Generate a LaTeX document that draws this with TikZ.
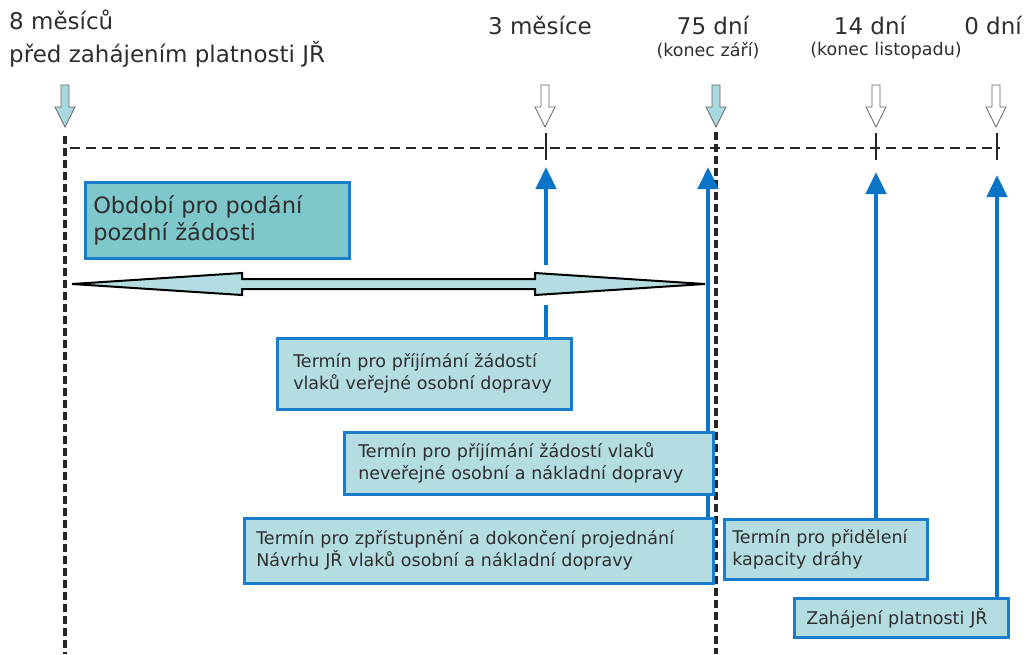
\documentclass[tikz,border=0pt]{standalone}
\usepackage{fontspec}
\setmainfont{DejaVu Sans}
\usetikzlibrary{arrows.meta,positioning}
\definecolor{boxblue}{HTML}{1A7DCC}
\definecolor{arrowblue}{HTML}{0A74C6}
\definecolor{lightfill}{HTML}{B4DDE2}
\definecolor{darkfill}{HTML}{7EC7CB}
\definecolor{downfill}{HTML}{A9D9DF}
\definecolor{txt}{HTML}{2E2E2E}

\begin{document}
\begin{tikzpicture}
    [   x = 1pt, y = -1pt
    ,   > = {Triangle[width=20pt,length=22pt]}
    ,   termbox/.style =
        {   draw = boxblue
        ,   line width = 2.5pt
        ,   fill = lightfill
        ,   text = txt
        ,   anchor = north west
        ,   align = left
        ,   inner xsep = 12pt
        ,   inner ysep = 0pt
        ,   font = \fontsize{17.5}{22}\selectfont
        }
    ,   toplabel/.style =
        {   text = txt
        ,   inner sep = 0pt
        ,   font = \fontsize{23}{33}\selectfont
        }
    ,   sublabel/.style =
        {   text = txt
        ,   inner sep = 0pt
        ,   font = \fontsize{17.5}{20}\selectfont
        }
    ,   blueline/.style =
        {   draw = arrowblue
        ,   line width = 4.5pt
        }
    ,   bigdash/.style =
        {   line width = 4.5pt
        ,   dash pattern = on 8pt off 4pt
        ,   draw = black!85
        }
    ,   smalldash/.style =
        {   line width = 2.8pt
        ,   dash pattern = on 10pt off 6pt
        ,   draw = black!85
        }
    ,   tick/.style =
        {   line width = 2.8pt
        ,   draw = black!85
        }
    ]
    \useasboundingbox (0,0) rectangle (1027,654);

    % time axis
    \draw[bigdash] (65,136) -- (65,654);
    \draw[bigdash] (716,132) -- (716,654);
    \draw[smalldash] (70,148) -- (1000,148);
    \foreach\x in {546,876,997}
    {   \draw[tick] (\x,133) -- (\x,160);
    }

    % pointers above the axis
    \foreach\x/\c in {65/downfill,716/downfill,545/white,876/white,996/white}
    {   \draw[black!60, line width = 0.8pt, fill = \c]
            (\x-4,85) -- (\x+4,85) -- (\x+4,107) -- (\x+10,107)
            -- (\x,127) -- (\x-10,107) -- (\x-4,107) -- cycle;
    }

    % labels
    \node[toplabel, anchor = north west, align = left] (L8m) at (9,10)
        {8 měsíců\\před zahájením platnosti JŘ};
    \node[toplabel] (L3m) at (540,25) {3 měsíce};
    \node[toplabel] (L75) at (713,25) {75 dní};
    \node[sublabel] (K75) at (708,51) {(konec září)};
    \node[toplabel] (L14) at (870,25) {14 dní};
    \node[sublabel] (K14) at (886,51) {(konec listopadu)};
    \node[toplabel] (L0)  at (993,25) {0 dní};

    % late request period
    \node[termbox, fill = darkfill, inner xsep = 8pt, text width = 248pt,
          minimum height = 76pt, font = \fontsize{22.5}{27}\selectfont]
        (Obdobi) at (84,181) {Období pro podání\\pozdní žádosti};
    \draw[line width = 2pt, fill = lightfill, line join = miter]
        (72,284) -- (242,273) -- (242,279) -- (535,279) -- (535,273)
        -- (705,284) -- (535,295) -- (535,289) -- (242,289) -- (242,295)
        -- cycle;

    % deadlines
    \node[termbox, inner xsep = 16pt, text width = 262pt, minimum height = 71pt]
        (TVerej) at (276,337)
        {Termín pro příjímání žádostí\\vlaků veřejné osobní dopravy};
    \node[termbox, inner xsep = 14pt, text width = 341pt, minimum height = 62pt]
        (TNever) at (343,431)
        {Termín pro příjímání žádostí vlaků\\neveřejné osobní a nákladní dopravy};
    \node[termbox, inner xsep = 12pt, text width = 445pt, minimum height = 65pt]
        (TNavrh) at (243,517)
        {Termín pro zpřístupnění a dokončení projednání\\Návrhu JŘ vlaků osobní a nákladní dopravy};
    \node[termbox, inner xsep = 8pt, text width = 187pt, minimum height = 60pt]
        (TKapac) at (723,518)
        {Termín pro přidělení\\kapacity dráhy};
    \node[termbox, inner xsep = 12pt, text width = 190pt, minimum height = 39pt]
        (TZahaj) at (793,597)
        {Zahájení platnosti JŘ};

    % connectors to the axis
    \coordinate (tip3m) at (546,167);
    \coordinate (tip75) at (708,167);
    \coordinate (tip14) at (876,172);
    \coordinate (tip0)  at (997,175);
    \coordinate (gapHi) at (0,265);
    \coordinate (gapLo) at (0,305);
    \draw[blueline] (TVerej.north -| tip3m) -- (gapLo -| tip3m);
    \draw[blueline, ->] (gapHi -| tip3m) -- (tip3m);
    \draw[blueline] (TNavrh.north -| tip75) -- (TNever.south -| tip75);
    \draw[blueline, ->] (TNever.north -| tip75) -- (tip75);
    \draw[blueline, ->] (TKapac.north -| tip14) -- (tip14);
    \draw[blueline, ->] (TZahaj.north -| tip0) -- (tip0);

\end{tikzpicture}
\end{document}
